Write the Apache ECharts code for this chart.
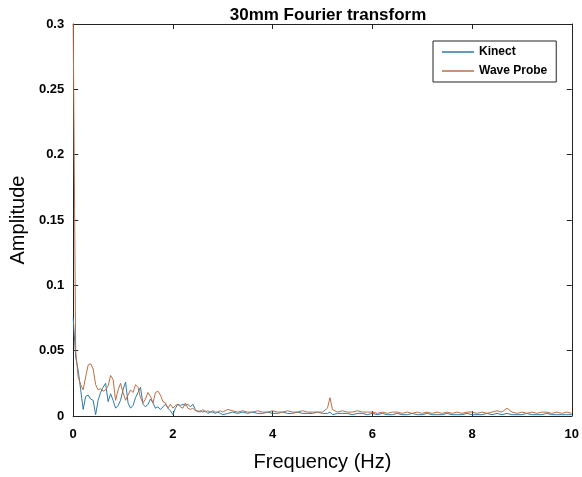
<!DOCTYPE html>
<html>
<head>
<meta charset="utf-8">
<script src="https://cdn.jsdelivr.net/npm/echarts@6/dist/echarts.min.js"></script>
<style>
  html, body { margin: 0; padding: 0; background: #fff; }
  #chart { width: 582px; height: 477px; }
</style>
</head>
<body>
<div id="chart"></div>
<script>
// frequency bins (Hz)
const freq = [
  0, 0.05, 0.1, 0.15, 0.2, 0.25, 0.3, 0.35, 0.4, 0.45,
  0.5, 0.55, 0.6, 0.65, 0.7, 0.75, 0.8, 0.85, 0.9, 0.95,
  1.0, 1.05, 1.1, 1.15, 1.2, 1.25, 1.3, 1.35, 1.4, 1.45,
  1.5, 1.55, 1.6, 1.65, 1.7, 1.75, 1.8, 1.85, 1.9, 1.95,
  2.0, 2.05, 2.1, 2.15, 2.2, 2.25, 2.3, 2.35, 2.4, 2.45,
  2.5, 2.55, 2.6, 2.65, 2.7, 2.75, 2.8, 2.85, 2.9, 2.95,
  3.0,
  3.1, 3.2, 3.3, 3.4, 3.5, 3.6, 3.7, 3.8, 3.9, 4.0,
  4.1, 4.2, 4.3, 4.4, 4.5, 4.6, 4.7, 4.8, 4.9, 5.0,
  5.1, 5.15, 5.2, 5.3, 5.4, 5.5, 5.6, 5.7, 5.8, 5.9, 6.0,
  6.1, 6.2, 6.3, 6.4, 6.5, 6.6, 6.7, 6.8, 6.9, 7.0,
  7.1, 7.2, 7.3, 7.4, 7.5, 7.6, 7.7, 7.8, 7.9, 8.0,
  8.1, 8.2, 8.3, 8.4, 8.5, 8.6, 8.7, 8.8, 8.9, 9.0,
  9.1, 9.2, 9.3, 9.4, 9.5, 9.6, 9.7, 9.8, 9.9, 10.0
]

const kinect = [
  0.075, 0.045, 0.035, 0.02, 0.005, 0.015, 0.016, 0.013, 0.012, 0.001,
  0.012, 0.018, 0.022, 0.025, 0.011, 0.017, 0.012, 0.006, 0.008, 0.012,
  0.02, 0.026, 0.01, 0.006, 0.008, 0.014, 0.018, 0.022, 0.009, 0.007,
  0.009, 0.013, 0.01, 0.006, 0.007, 0.005, 0.007, 0.009, 0.006, 0.004,
  0.001, 0.006, 0.009, 0.008, 0.009, 0.008, 0.009, 0.007, 0.009, 0.005,
  0.003, 0.004, 0.003, 0.004, 0.002, 0.003, 0.003, 0.002, 0.003, 0.002,
  0.001,
  0.002, 0.003, 0.002, 0.003, 0.002, 0.003, 0.002, 0.002, 0.003, 0.002,
  0.002, 0.003, 0.002, 0.002, 0.003, 0.002, 0.002, 0.002, 0.003, 0.002,
  0.002, 0.003, 0.001, 0.002, 0.002, 0.002, 0.001, 0.002, 0.002, 0.001, 0.002,
  0.001, 0.002, 0.001, 0.001, 0.002, 0.001, 0.001, 0.002, 0.001, 0.001,
  0.002, 0.001, 0.001, 0.001, 0.002, 0.001, 0.001, 0.001, 0.002, 0.001,
  0.001, 0.001, 0.002, 0.001, 0.002, 0.001, 0.002, 0.001, 0.001, 0.001,
  0.002, 0.001, 0.001, 0.001, 0.002, 0.001, 0.001, 0.001, 0.001, 0.001
]

const waveProbe = [
  0.3, 0.05, 0.03, 0.024, 0.02, 0.03, 0.039, 0.04, 0.036, 0.024,
  0.02, 0.021, 0.019, 0.02, 0.023, 0.031, 0.028, 0.012, 0.02, 0.025,
  0.018, 0.012, 0.016, 0.02, 0.018, 0.024, 0.022, 0.014, 0.01, 0.013,
  0.018, 0.015, 0.01, 0.018, 0.019, 0.016, 0.011, 0.01, 0.006, 0.009,
  0.006, 0.008, 0.009, 0.007, 0.006, 0.01, 0.006, 0.005, 0.006, 0.004,
  0.004, 0.003, 0.005, 0.003, 0.004, 0.003, 0.004, 0.003, 0.003, 0.004,
  0.003,
  0.005, 0.004, 0.003, 0.004, 0.003, 0.003, 0.004, 0.003, 0.003, 0.004,
  0.003, 0.003, 0.004, 0.003, 0.003, 0.004, 0.003, 0.003, 0.003, 0.003,
  0.006, 0.014, 0.005, 0.003, 0.004, 0.003, 0.003, 0.004, 0.003, 0.003, 0.003,
  0.002, 0.003, 0.002, 0.003, 0.003, 0.002, 0.003, 0.002, 0.003, 0.002,
  0.003, 0.002, 0.003, 0.002, 0.003, 0.002, 0.003, 0.002, 0.003, 0.003,
  0.002, 0.003, 0.002, 0.003, 0.004, 0.003, 0.006, 0.003, 0.002, 0.003,
  0.002, 0.003, 0.002, 0.003, 0.003, 0.002, 0.003, 0.002, 0.003, 0.002
]

const chart = echarts.init(document.getElementById('chart'))

const pairs = (ys) => freq.map((f, i) => [f, ys[i]])

const boxAxis = {
  axisLine: { show: true, onZero: false, lineStyle: { color: '#222', width: 1 } },
  axisTick: { show: true, inside: true, length: 5, lineStyle: { color: '#222' } },
  splitLine: { show: false }
}

const font = 'Liberation Sans, Arial, sans-serif'

chart.setOption({
  animation: false,
  title: {
    text: '30mm Fourier transform',
    left: 323,
    textAlign: 'center',
    top: 2,
    textStyle: { fontFamily: font, fontSize: 17, fontWeight: 'bold', color: '#000' }
  },
  legend: {
    orient: 'vertical',
    left: 433,
    top: 41,
    padding: [4, 9],
    itemGap: 5,
    itemWidth: 32,
    itemHeight: 1.5,
    icon: 'rect',
    borderColor: '#222',
    borderWidth: 1,
    textStyle: { fontFamily: font, fontSize: 12, fontWeight: 'bold', color: '#000', lineHeight: 14 },
    data: ['Kinect', 'Wave Probe']
  },
  grid: { left: 73, right: 9, top: 24, bottom: 59 },
  xAxis: [
    Object.assign({
      type: 'value', min: 0, max: 10, interval: 2,
      name: 'Frequency (Hz)', nameLocation: 'middle', nameGap: 36,
      nameTextStyle: { fontFamily: font, fontSize: 20, color: '#000' },
      axisLabel: { fontFamily: font, fontSize: 13, fontWeight: 'bold', color: '#000', margin: 12 }
    }, boxAxis),
    Object.assign({
      type: 'value', position: 'top', min: 0, max: 10, interval: 2,
      axisLabel: { show: false }
    }, boxAxis)
  ],
  yAxis: [
    Object.assign({
      type: 'value', min: 0, max: 0.3, interval: 0.05,
      name: 'Amplitude', nameLocation: 'middle', nameGap: 40,
      nameTextStyle: { fontFamily: font, fontSize: 20, color: '#000' },
      axisLabel: { fontFamily: font, fontSize: 13, fontWeight: 'bold', color: '#000', margin: 9 }
    }, boxAxis),
    Object.assign({
      type: 'value', position: 'right', min: 0, max: 0.3, interval: 0.05,
      axisLabel: { show: false }
    }, boxAxis)
  ],
  series: [
    {
      name: 'Kinect',
      type: 'line',
      symbol: 'none',
      data: pairs(kinect),
      lineStyle: { color: '#2f7aa8', width: 1 },
      itemStyle: { color: '#2f7aa8' }
    },
    {
      name: 'Wave Probe',
      type: 'line',
      symbol: 'none',
      data: pairs(waveProbe),
      lineStyle: { color: '#bd6e45', width: 1 },
      itemStyle: { color: '#bd6e45' }
    }
  ]
})
</script>
</body>
</html>
